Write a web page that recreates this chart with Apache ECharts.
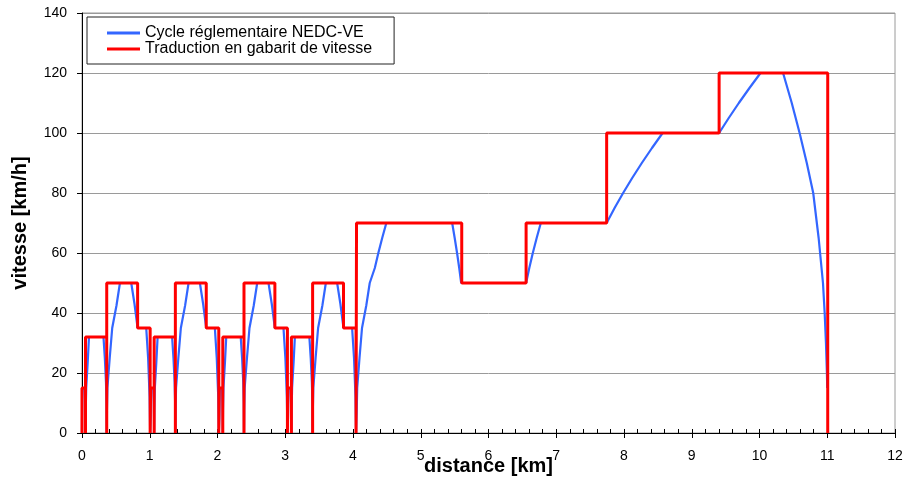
<!DOCTYPE html>
<html><head><meta charset="utf-8">
<script src="https://cdn.jsdelivr.net/npm/echarts@6/dist/echarts.min.js"></script>
<style>html,body{margin:0;padding:0;background:#fff}#c{width:905px;height:483px}</style>
</head><body><div id="c"></div>
<script>
const seriesNames = ['Cycle réglementaire NEDC-VE', 'Traduction en gabarit de vitesse'];
const xTickLabels = [0,1,2,3,4,5,6,7,8,9,10,11,12];
const yTickLabels = [0,20,40,60,80,100,120,140];

// Blue: regulatory NEDC cycle, speed vs distance (km, km/h)
const cycleDist = [
  0,0.001,0.004,0.008,0.042,0.047,0.051,0.052,0.055,0.062,0.071,0.084,0.103,0.317,0.337,0.354,0.362,0.365,0.368,0.375,0.384,0.409,0.446,0.466,0.509,0.560,0.727,0.775,0.821,0.948,0.976,0.998,1.006,
  1.013,1.014,1.017,1.021,1.055,1.060,1.064,1.065,1.068,1.075,1.084,1.097,1.116,1.330,1.350,1.367,1.375,1.378,1.381,1.388,1.397,1.422,1.459,1.479,1.522,1.573,1.740,1.788,1.834,1.961,1.989,2.011,2.019,
  2.026,2.027,2.030,2.034,2.068,2.073,2.077,2.078,2.081,2.088,2.097,2.110,2.129,2.343,2.363,2.380,2.388,2.391,2.394,2.401,2.410,2.435,2.472,2.492,2.535,2.586,2.753,2.801,2.847,2.974,3.002,3.024,3.032,
  3.039,3.040,3.043,3.047,3.081,3.086,3.090,3.091,3.094,3.101,3.110,3.123,3.142,3.356,3.376,3.393,3.401,3.404,3.407,3.414,3.423,3.448,3.485,3.505,3.548,3.599,3.766,3.814,3.860,3.987,4.015,4.037,4.045,
  4.052,4.055,4.062,4.071,4.096,4.133,4.153,4.196,4.247,4.275,4.322,4.374,4.431,4.492,5.464,5.501,5.536,5.568,5.597,6.555,6.602,6.654,6.711,6.772,7.744,7.861,7.987,8.121,8.263,8.413,8.570,9.404,9.546,9.695,9.852,10.015,10.348,10.476,10.592,10.698,10.793,10.873,10.937,10.962,10.981,10.995,11.000
];
const cycleSpeed = [
  0,5,10,15,15,10,5,0,7.5,15,15,23.5,32,32,25,17,10,0,7.5,15,15,25,35,35,42.5,50,50,43,35,35,25,12,0,
  0,5,10,15,15,10,5,0,7.5,15,15,23.5,32,32,25,17,10,0,7.5,15,15,25,35,35,42.5,50,50,43,35,35,25,12,0,
  0,5,10,15,15,10,5,0,7.5,15,15,23.5,32,32,25,17,10,0,7.5,15,15,25,35,35,42.5,50,50,43,35,35,25,12,0,
  0,5,10,15,15,10,5,0,7.5,15,15,23.5,32,32,25,17,10,0,7.5,15,15,25,35,35,42.5,50,50,43,35,35,25,12,0,
  0,7.5,15,15,25,35,35,42.5,50,50,55,60,65,70,70,65,60,55,50,50,55,60,65,70,70,75,80,85,90,95,100,100,105,110,115,120,120,110,100,90,80,65,50,40,30,20,15
];

// Red: speed envelope (gabarit)
const gabaritDist = [
  0,0,0.052,0.052,0.052,0.365,0.365,0.365,0.821,0.821,1.006,1.006,
  1.013,1.013,1.065,1.065,1.065,1.378,1.378,1.378,1.834,1.834,2.019,2.019,
  2.026,2.026,2.078,2.078,2.078,2.391,2.391,2.391,2.847,2.847,3.032,3.032,
  3.039,3.039,3.091,3.091,3.091,3.404,3.404,3.404,3.860,3.860,4.045,4.045,
  4.052,4.052,5.605,5.605,6.555,6.555,7.744,7.744,9.404,9.404,11.007,11.007
];
const gabaritSpeed = [
  0,15,15,0,32,32,0,50,50,35,35,0,
  0,15,15,0,32,32,0,50,50,35,35,0,
  0,15,15,0,32,32,0,50,50,35,35,0,
  0,15,15,0,32,32,0,50,50,35,35,0,
  0,70,70,50,50,70,70,100,100,120,120,0
];

const blueData = cycleDist.map((d, i) => [d, cycleSpeed[i]]);
const redData = gabaritDist.map((d, i) => [d, gabaritSpeed[i]]);

const FONT = "'Liberation Sans', Arial, sans-serif";
const chart = echarts.init(document.getElementById('c'), null, {renderer: 'canvas'});
chart.setOption({
  animation: false,
  backgroundColor: '#fff',
  textStyle: {fontFamily: FONT},
  grid: {left: 82, right: 10, top: 13, bottom: 50, containLabel: false, outerBoundsMode: 'none',
         show: true, borderColor: '#9a9a9a', borderWidth: 1, backgroundColor: 'transparent'},
  legend: {
    left: 87, top: 17, orient: 'vertical',
    data: seriesNames,
    icon: 'rect', itemWidth: 33, itemHeight: 3, itemGap: 0,
    padding: [8, 22, 7, 20],
    borderColor: '#222', borderWidth: 1, backgroundColor: '#fff',
    textStyle: {fontFamily: FONT, fontSize: 16, color: '#000', lineHeight: 13}
  },
  xAxis: [{
    type: 'value', min: xTickLabels[0], max: xTickLabels[xTickLabels.length - 1], interval: 1,
    name: 'distance [km]', nameLocation: 'middle', nameGap: 23, nameMoveOverlap: false,
    nameTextStyle: {fontFamily: FONT, fontSize: 20, fontWeight: 'bold', color: '#000'},
    axisLine: {onZero: false, lineStyle: {color: '#000', width: 1}},
    axisTick: {show: true, length: 5, lineStyle: {color: '#000'}},
    axisLabel: {fontFamily: FONT, fontSize: 14, color: '#000', margin: 16},
    splitLine: {show: false}
  }, {
    type: 'value', min: 0, max: 12, interval: 0.2, position: 'bottom',
    axisLine: {show: false},
    axisTick: {show: true, inside: true, length: 4, lineStyle: {color: '#000'}},
    axisLabel: {show: false},
    splitLine: {show: false}
  }],
  yAxis: {
    type: 'value', min: yTickLabels[0], max: yTickLabels[yTickLabels.length - 1], interval: 20,
    name: 'vitesse [km/h]', nameLocation: 'middle', nameGap: 52,
    nameTextStyle: {fontFamily: FONT, fontSize: 20, fontWeight: 'bold', color: '#000'},
    axisLine: {show: true, lineStyle: {color: '#000', width: 1}},
    axisTick: {show: true, length: 5, lineStyle: {color: '#000'}},
    axisLabel: {fontFamily: FONT, fontSize: 14, color: '#000', margin: 15},
    splitLine: {show: true, lineStyle: {color: '#9a9a9a', width: 1}}
  },
  series: [{
    name: seriesNames[0], type: 'line', data: blueData, xAxisIndex: 0,
    showSymbol: false, symbol: 'none',
    lineStyle: {color: '#3366ff', width: 2.2},
    itemStyle: {color: '#3366ff'}
  }, {
    name: seriesNames[1], type: 'line', data: redData, xAxisIndex: 0,
    showSymbol: false, symbol: 'none',
    lineStyle: {color: '#ff0000', width: 3},
    itemStyle: {color: '#ff0000'}
  }]
});
</script>
</body></html>
